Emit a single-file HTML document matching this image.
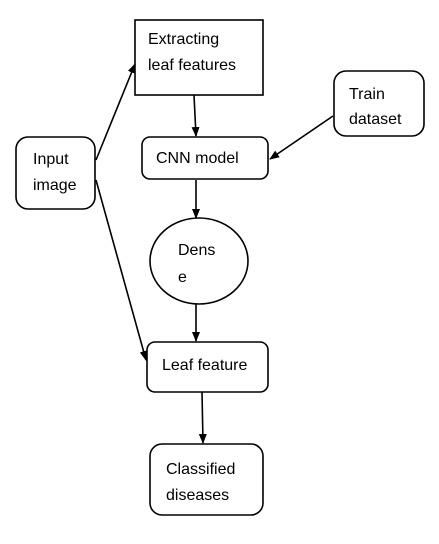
<!DOCTYPE html>
<html><head><style>body{margin:0;background:#fff}</style></head><body>
<svg width="439" height="539" xmlns="http://www.w3.org/2000/svg" font-family="Liberation Sans, sans-serif" font-size="16" fill="#000">
<defs><marker id="a" markerWidth="10" markerHeight="10" refX="9" refY="5" orient="auto" markerUnits="userSpaceOnUse"><path d="M0,1 L10,5 L0,9 z" fill="#000"/></marker></defs>
<g fill="none" stroke="#000" stroke-width="1.6">
<rect x="135" y="20" width="128" height="75"/>
<rect x="334" y="71" width="90" height="65" rx="12"/>
<rect x="142" y="137" width="126" height="42" rx="8"/>
<rect x="16" y="137" width="79" height="72" rx="12"/>
<ellipse cx="199" cy="261" rx="49" ry="43"/>
<rect x="147" y="342" width="121" height="50" rx="8"/>
<rect x="150" y="444" width="113" height="71" rx="12"/>
</g>
<g stroke="#000" stroke-width="1.6" marker-end="url(#a)">
<line x1="96" y1="160" x2="135" y2="64"/>
<line x1="96" y1="180" x2="146" y2="360"/>
<line x1="194" y1="95" x2="196" y2="136"/>
<line x1="333" y1="116" x2="270" y2="159"/>
<line x1="196" y1="180" x2="196" y2="218"/>
<line x1="196" y1="304" x2="196" y2="341"/>
<line x1="202" y1="392" x2="203" y2="443"/>
</g>
<text x="148" y="44">Extracting</text>
<text x="148" y="70">leaf features</text>
<text x="349" y="99">Train</text>
<text x="349" y="124">dataset</text>
<text x="33" y="164">Input</text>
<text x="33" y="190">image</text>
<text x="156" y="163">CNN model</text>
<text x="178" y="255">Dens</text>
<text x="178" y="282">e</text>
<text x="162" y="370">Leaf feature</text>
<text x="166" y="474">Classified</text>
<text x="166" y="500">diseases</text>
</svg>
</body></html>
